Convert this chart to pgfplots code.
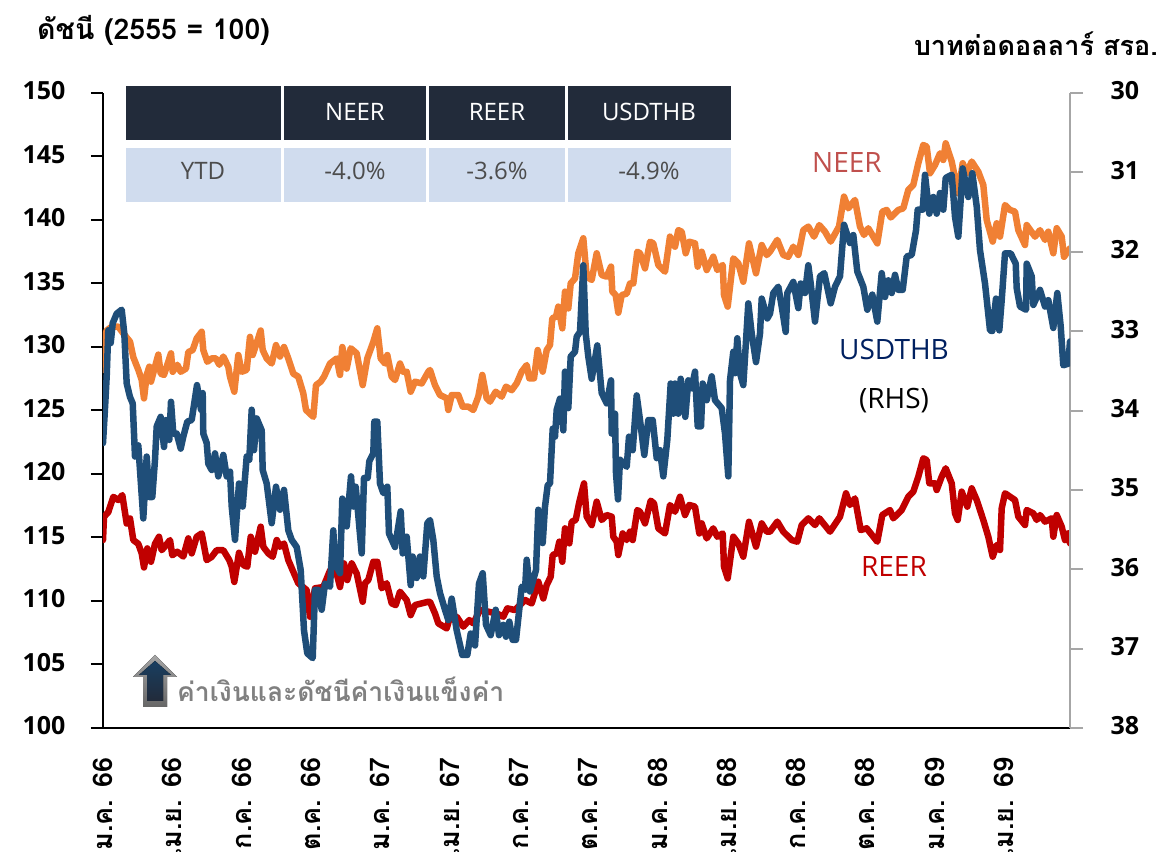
\documentclass[border=0pt]{standalone}
\usepackage{fontspec}
\usepackage{pgfplots}
\pgfplotsset{compat=1.18}
\setmainfont[Script=Thai]{Loma}
\newfontfamily\latfont{Open Sans}
\definecolor{neer}{HTML}{F08034}
\definecolor{reer}{HTML}{C00000}
\definecolor{usd}{HTML}{1F4E79}
\definecolor{hdr}{HTML}{222B3A}
\definecolor{rowc}{HTML}{D0DCEE}
\definecolor{axg}{HTML}{A6A6A6}
\definecolor{neerlab}{HTML}{C0504D}
\definecolor{usdlab}{HTML}{002060}
\newcommand{\fs}[1]{\fontsize{#1}{#1}\selectfont}
\begin{document}
\begin{tikzpicture}
\path[use as bounding box] (0,0) rectangle (1163pt,852pt);
\begin{axis}[
  at={(103pt,124pt)},anchor=south west,scale only axis,width=967pt,height=635pt,
  xmin=0,xmax=967,ymin=100,ymax=150,
  axis x line*=bottom,axis y line*=left,axis line style={-,black,line width=2pt},
  xtick={0,69.3,138.6,207.9,277.2,346.5,415.8,485.1,554.4,623.7,693,762.3,831.6,900.9},
  xticklabels={ม.ค. 66,เม.ย. 66,ก.ค. 66,ต.ค. 66,ม.ค. 67,เม.ย. 67,ก.ค. 67,ต.ค. 67,ม.ค. 68,เม.ย. 68,ก.ค. 68,ต.ค. 68,ม.ค. 69,เม.ย. 69},
  x tick style={draw=none},
  xticklabel style={rotate=90,anchor=east,xshift=-14pt,font=\fs{27}\bfseries},
  ytick={100,105,...,150},
  tick align=outside,y tick style={black,line width=2pt},major tick length=12pt,
  yticklabel style={anchor=east,xshift=-22pt,yshift=2pt,font=\latfont\fs{25}\bfseries},
  /pgf/number format/assume math mode=true,
  every axis plot/.append style={line width=6.5pt,line join=round,line cap=round},
]
\addplot[neer,no marks] coordinates {
(0,128.19)(1,130.55)(3.7,131.3)(8.7,131.6)(15.3,131.6)(20.3,131.07)(27,130.42)(30.3,129.2)(35.3,128.2)(38.7,127.4)(41,125.95)(43.7,127.8)(46.3,128.45)(48,127.27)(52,128.45)(55.3,129.4)(57.7,127.9)(61,127.8)(63.7,128.45)(68,129.5)(69.7,128.05)(74.3,128.6)(77.7,128.05)(83,128.3)(85.3,129.6)(89.7,129.76)(93.7,130.68)(98.7,131.2)(100.3,129.76)(104.3,128.84)(108.7,129.1)(113,129.1)(116.3,128.6)(120.3,129.25)(125.3,128.45)(127,127.66)(131.3,126.48)(135.3,129.37)(138.7,128.05)(143.7,128.2)(147,130.8)(149.7,129.37)(153,130.15)(157.7,131.3)(159.7,129.76)(163.7,129.1)(168.7,128.7)(173,130.15)(177,129.25)(181,130)(185.3,129.1)(190.3,127.9)(195.3,127.66)(200.3,126.35)(203,125.04)(210.3,124.5)(213,127)(217.7,127.27)(221,127.66)(227,128.7)(233.7,129.1)(237,127.8)(239.3,130)(243.7,128.3)(247.7,129.9)(253.7,129.5)(259.7,127)(264.3,129.1)(270.3,130.4)(274.3,131.47)(277.7,129.1)(282,128.7)(284.3,129.37)(288.7,127.66)(292,127.4)(297,128.7)(300.3,128.05)(303.7,128.05)(307.7,126.48)(312,127.27)(318.7,127.13)(325.3,128.05)
(327,128.19)(332,127)(337,126.22)(343.7,125.96)(345.3,125.04)(348.7,126.22)(355.3,126.22)(359.7,125.3)(365.3,125.3)(370.3,125.04)(375.3,126.09)(379.3,127.8)(383.7,125.96)(387,125.7)(392.7,126.48)(398.7,126.09)(403,126.88)(408.7,126.6)(413.7,127.14)(418.7,128.06)(423.7,128.58)(426.3,127.53)(431,127.53)(434.7,129.76)(439.7,128.06)(443.7,129.76)(447,130.16)(449.3,132.26)(453,132.39)(455.3,133.18)(459.3,131.47)(462,134.36)(465.3,133.04)(467.7,135.01)(472,135.4)(475.3,137.38)(480.3,138.56)(483.7,135.54)(488.7,135.28)(493.7,137.38)(498.7,135.67)(503.7,135.54)(508,136.33)(509.3,134.36)(512.7,134.09)(515.3,132.7)(518.7,134.09)(523.7,134.2)(527,135)(530.3,135)(534.3,137.5)(537,137.38)(542,136.19)(547,138.29)(550.3,138.16)(555.3,136.46)(562,135.93)(567,138.69)(572,137.9)(575.3,139.2)(578.7,139.08)(582.7,137.38)(586.3,138.29)(592,138.16)(594.7,136.33)(598.7,137.5)(603.7,136.06)(610.3,137.11)(614.3,136.06)(619.7,136.46)(621,134.09)(624.7,133.18)(630.3,136.98)(635.3,136.59)(640.3,135.14)(646,138.16)(653,135.8)(658.7,138.03)(663.7,137.24)
(667,137.51)(674.3,138.43)(680.3,137.25)(685.3,137.1)(690.3,137.9)(695.3,137.25)(700.3,139.2)(705.3,139.48)(711,138.69)(716.3,139.6)(722,139.08)(727.7,138.3)(736,139.48)(741,141.84)(745.3,140.92)(752,141.58)(757,139.48)(761,138.82)(765.3,139.35)(774.3,138.16)(779.3,140.66)(783.7,140.79)(787.7,140.2)(795.3,140.79)(800.3,140.92)(805.3,142.37)(810.3,142.76)(815.3,144.47)(820.3,145.91)(823.7,145.78)(827,143.68)(832,144.33)(837,145.25)(840.3,144.73)(842.7,146.04)(848.7,144.6)(855.3,142.1)(859.7,144.47)(863.7,143.68)(868.7,144.6)(875.3,143.8)(880.3,142.76)(883.7,140)(889.7,138.3)(893.7,139.74)(897,138.69)(902,141.18)(907,140.79)(912,140.66)(915.3,139.2)(922,138.03)(923.7,139.6)(932,138.69)(937,139.2)(942,138.43)(945.3,139.08)(950.3,137.38)(953.7,139.35)(958.7,138.69)(961,137.1)(967,137.77)
};
\addplot[reer,no marks] coordinates {
(0,114.8)(1,116.63)(5.3,117)(10.3,118.2)(15.3,117.95)(19.3,118.34)(23.7,116.1)(27,116.5)(30.3,114.8)(35.3,114.5)(38.7,113.75)(41,112.64)(44.3,114.14)(48,113.09)(52,114.5)(56,115.06)(58.7,114)(63,114.4)(67,114.8)(69.3,113.6)(74.3,113.88)(80.3,113.5)(85.3,114.93)(88.7,113.75)(93.7,115.06)(98.7,115.32)(103.7,113.22)(108.7,113.48)(113.7,114)(120.3,114)(126.3,113.22)(128.7,112.7)(131.3,111.5)(136,113.8)(140.3,112.83)(144.3,112.7)(147.7,115.06)(152,113.88)(157.7,115.85)(160.3,114.27)(165.3,113.75)(169.7,113.48)(173.7,114.8)(177,114.27)(181,114.53)(185.3,113.22)(190.3,112.3)(195.3,111.4)(203.7,110.86)(207,108.76)(212,111)(220.3,111.1)(227,112.4)(232,112.7)(237,111.1)(241,112.96)(244.3,111.65)(248.7,112.96)(253.7,112.17)(259.7,109.94)(262,111.4)(265.3,111.65)(270.3,113.09)(274.3,113.09)(278.7,111)(283.7,111.4)(288.7,109.81)(292.7,109.68)(297,110.73)(303.7,110.07)(307.7,108.89)(312,109.68)(325.3,109.94)
(327,109.94)(332,109.02)(335.3,108.24)(343.7,107.84)(347,108.76)(353.7,108.76)(360.3,107.98)(366.3,108.5)(370.3,108.24)(377,109.29)(385.3,109.16)(393.7,109.02)(400.3,108.76)(404.3,109.42)(412,109.29)(422,110.08)(428.7,109.81)(435.3,111.52)(440.3,110.2)(443.7,111.26)(447.7,111.91)(449.7,113.62)(453.7,113.75)(456.3,114.67)(459.3,113.09)(462,115.72)(466.3,114.54)(468.7,116.24)(472.7,116.38)(476,117.69)(481,119.26)(483.7,116.64)(488.7,115.98)(493.7,117.82)(498.7,116.38)(503.7,116.77)(508.7,116.64)(510.3,115.06)(513.7,114.67)(515.3,113.62)(519.7,115.32)(523.7,114.8)(527,115.46)(529.7,114.8)(534.3,117.16)(537,117.03)(542,116.11)(547.7,117.9)(551,117.69)(555.3,115.72)(562,115.32)(567,117.56)(572,117.03)(577,118.21)(582,116.77)(586.3,117.56)(592,117.43)(596.3,115.32)(598.7,116.11)(603.7,114.93)(610.3,115.72)(614.3,115.06)(619.7,115.32)(621,112.7)(624.7,111.78)(630.3,115.06)(635.3,114.54)(640.3,113.49)(646,116.24)(653,114.28)(658.7,116.11)(663.7,115.46)
(667,115.46)(674.3,116.25)(680.3,115.46)(688.7,114.8)(694.3,114.67)(698.7,115.98)(705.3,116.51)(712,115.98)(716.3,116.51)(727,115.46)(737,116.64)(743,118.48)(747,117.56)(752,118.08)(757.7,115.59)(763.7,115.72)(774.3,114.67)(779.3,116.77)(787,117.16)(790.3,116.51)(798.7,117.16)(805.3,118.21)(810.3,118.61)(815.3,119.79)(820.3,121.23)(823.7,121.1)(826.3,119.27)(832,119.27)(833.7,118.74)(838.7,119.79)(842.7,120.45)(848.7,119.27)(852,116.9)(854.7,116.38)(858.7,118.61)(864.3,117.43)(868.7,118.87)(873.7,117.95)(880.3,116.38)(885.3,115.06)(889.7,113.49)(893.7,114.41)(897,114.02)(898.7,117.3)(902,118.48)(912,117.95)(915.3,116.64)(922,115.98)(923.7,117.16)(930.3,116.9)(933.7,116.38)(937,116.77)(942,116.25)(948.7,116.51)(950.3,115.06)(953.7,116.77)(958.7,115.85)(962,114.8)(965.3,115.33)(967,114.54)
};
\end{axis}
\begin{axis}[
  at={(103pt,124pt)},anchor=south west,scale only axis,width=967pt,height=635pt,
  xmin=0,xmax=967,ymin=30,ymax=38,y dir=reverse,
  axis x line=none,axis y line*=right,axis line style={-,axg,line width=2.5pt},
  ytick={30,31,...,38},
  tick align=outside,y tick style={axg,line width=2pt},major tick length=13pt,
  yticklabel style={anchor=west,xshift=24pt,yshift=2pt,font=\latfont\fs{25}\bfseries},
  /pgf/number format/assume math mode=true,
  every axis plot/.append style={line width=6.5pt,line join=round,line cap=round},
]
\addplot[usd,no marks] coordinates {
(0,34.41)(1.7,34.04)(3.7,33.57)(5.3,32.99)(7.7,33.15)(9.7,32.9)(13.7,32.78)(18.7,32.73)(21.3,33.03)(23.7,33.66)(27,33.83)(29.7,33.91)(32,34.58)(35.3,34.44)(40.3,35.36)(43.7,34.58)(46.3,35.09)(49.3,35.09)(52,34.62)(53.7,34.2)(57.7,34.08)(61,34.46)(63,34.12)(66.3,34.37)(68,33.89)(70.3,34.29)(73.7,34.29)(77.7,34.48)(80.3,34.33)(84.3,34.14)(88.7,34.12)(94,33.68)(98,33.99)(99.7,33.78)(100.3,34.29)(103.7,34.41)(105.3,34.67)(108.7,34.75)(112,34.54)(115.3,34.83)(120.3,34.56)(123.7,34.83)(127,34.77)(128.7,35.21)(132,35.63)(136,34.92)(139.7,35.21)(143.7,34.58)(146.3,34.62)(148.7,33.99)(151,34.5)(153.7,34.1)(158.7,34.25)(159.7,34.75)(163.7,34.92)(168.7,35.42)(173,34.96)(177,35.25)(181,35)(185.3,35.51)(188.7,35.63)(193.7,35.72)(197.7,36.01)(201,36.77)(204.3,37.06)(209.7,37.12)(212,36.26)(215.3,36.26)(218.7,36.51)(222,36.18)(227,36.22)(230.3,35.51)(232,35.93)(237,36.05)(239.3,35.11)(243.7,35.46)(248,34.83)(250.3,35.21)(252.7,34.96)(258.7,35.8)(261,34.85)(264.7,34.85)(266.3,34.64)(270.3,34.54)(271.3,34.14)(274.3,34.14)(277,34.92)(280.3,35.04)(284.3,34.96)(286,35.55)(292,35.72)(297.7,35.27)(299.7,35.8)(303.7,35.59)(307.7,36.2)(309.7,35.84)(313.7,36.11)(317,35.84)(320.3,36.09)(324.3,35.42)
(327,35.38)(330.3,35.63)(333.7,36.09)(337,36.3)(342,36.51)(345.3,36.64)(348.7,36.37)(353.7,36.77)(359.3,37.08)(364.3,37.08)(367.7,36.81)(372,36.96)(376,36.18)(379.7,36.05)(383,36.7)(387.7,36.83)(392.7,36.51)(396,36.83)(400.3,36.7)(403,36.85)(406.3,36.66)(409.7,36.89)(413,36.89)(418.7,36.22)(422,36.26)(423.7,35.88)(427,36.28)(433,36.01)(435.3,35.25)(439.7,35.67)(442,35.21)(444.7,34.94)(447,34.92)(449.7,34.23)(452,34.33)(453.7,33.99)(457,33.85)(460.3,34.25)(462,33.51)(465.3,33.97)(467.7,33.32)(472,33.26)(473.7,33.07)(477,33.01)(480.3,32.17)(482.7,33.03)(485.3,33.32)(488.7,33.6)(494.3,33.18)(498.7,33.78)(503.7,33.91)(508,33.62)(508.7,34.29)(512,34.04)(513,34.79)(515,35.12)(517,34.62)(523.7,34.71)(526,34.33)(529.7,34.5)(533.7,33.81)(537,34.12)(541.3,34.56)(545.3,34.12)(549.7,34.12)(553.7,34.6)(557,34.5)(560.3,34.83)(564.3,34.37)(567.7,33.66)(570.3,34.04)(572,33.66)(575.3,34.04)(577.7,33.6)(582.3,34.08)(585.3,33.62)(588.7,33.72)(592,33.51)(594.7,34.2)(598,34.2)(599.7,33.66)(603.7,33.87)(608.7,33.57)(612,33.87)(618.7,33.97)(622,34.29)(625.3,34.83)(627,33.62)(630.3,33.26)(632,33.53)(634.3,33.09)(637,33.53)(640.3,33.68)(645.3,32.65)(648.7,33.03)(653,33.39)(657,33.03)(658.7,32.59)(664.3,32.84)
(667,32.78)(670.3,32.52)(675.3,32.44)(678.7,32.69)(682.7,33.01)(684.3,32.52)(690.3,32.38)(695.3,32.71)(697.7,32.4)(702,32.52)(705.3,32.17)(707.7,32.4)(712,32.88)(717,32.31)(721.3,32.27)(727.7,32.65)(732,32.44)(737,32.31)(741,31.66)(747,31.89)(750.3,31.79)(754.3,32.25)(760.3,32.44)(764.3,32.73)(769.3,32.54)(774.3,32.88)(778.7,32.27)(782,32.57)(785.3,32.36)(788.7,32.52)(792,32.29)(795.3,32.48)(799.7,32.48)(803.7,32.06)(808.7,32.04)(813,31.73)(814.7,31.47)(819.7,31.47)(822,31.03)(826.3,31.52)(830.3,31.31)(833.7,31.52)(837,31.26)(840.3,31.47)(842.7,31.07)(848.7,31.03)(852,31.56)(855.3,31.81)(859.7,30.95)(865.3,31.31)(869.3,31.01)(873.7,31.43)(877,31.98)(882,32.4)(887,32.99)(889.3,33)(893,32.59)(896.3,32.99)(898.7,32.61)(902,32.02)(907.7,32.02)(912.7,32.15)(913.7,32.46)(917,32.69)(923,32.73)(923.7,32.15)(928.7,32.31)(930.3,32.67)(937,32.48)(942,32.69)(945.3,32.61)(950.3,32.96)(954.3,32.52)(957.7,32.94)(960.3,33.43)(965.3,33.41)(967,33.13)
};
\end{axis}
\begin{scope}[x=1pt,y=-1pt,yshift=852pt]
\node[anchor=west,inner sep=0pt,font=\fs{28.5}\bfseries] at (37,30) {ดัชนี (2555 = 100)};
\node[anchor=east,inner sep=0pt,font=\fs{27}\bfseries] at (1158,44) {บาทต่อดอลลาร์ สรอ.};
\fill[hdr] (126,86) rectangle (281,140);
\fill[hdr] (284,86) rectangle (426,140);
\fill[hdr] (429,86) rectangle (565,140);
\fill[hdr] (568,86) rectangle (731,140);
\fill[rowc] (126,148) rectangle (281,202);
\fill[rowc] (284,148) rectangle (426,202);
\fill[rowc] (429,148) rectangle (565,202);
\fill[rowc] (568,148) rectangle (731,202);
\begin{scope}[every node/.style={font=\latfont\fs{24},inner sep=0pt}]
\node[white] at (355,112) {NEER};
\node[white] at (497,112) {REER};
\node[white] at (649,112) {USDTHB};
\node[black!70] at (203,171) {YTD};
\node[black!70] at (355,171) {-4.0\%};
\node[black!70] at (497,171) {-3.6\%};
\node[black!70] at (649,171) {-4.9\%};
\end{scope}
\begin{scope}[every node/.style={font=\latfont\fs{28},inner sep=0pt}]
\node[text=neerlab] at (847,163) {NEER};
\node[text=usdlab] at (894,350) {USDTHB};
\node[text=black] at (894,401) {(RHS)};
\node[text=reer] at (894,567) {REER};
\end{scope}
\fill[top color=black!35,bottom color=black!60] (155,655) -- (177,677) -- (167,677) -- (167,707) -- (143,707) -- (143,677) -- (133,677) -- cycle;
\fill[top color=usd!80!black,bottom color=hdr] (155,661) -- (171,675) -- (163,675) -- (163,701) -- (147,701) -- (147,675) -- (139,675) -- cycle;
\node[anchor=west,inner sep=0pt,text=black!50,font=\fs{26.5}\bfseries] at (177,689) {ค่าเงินและดัชนีค่าเงินแข็งค่า};
\end{scope}
\end{tikzpicture}
\end{document}
